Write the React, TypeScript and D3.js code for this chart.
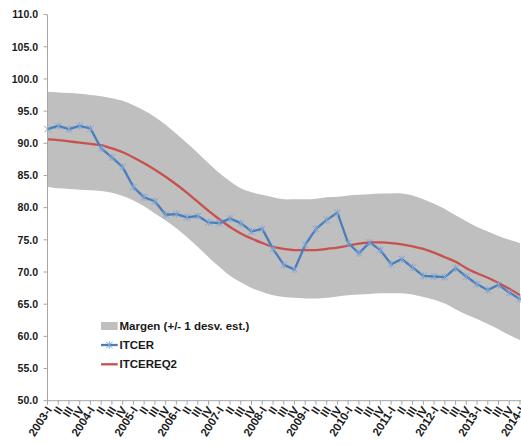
import React from "react";
import * as d3 from "d3";

const quarters = [
  "2003-I","II","III","IV",
  "2004-I","II","III","IV",
  "2005-I","II","III","IV",
  "2006-I","II","III","IV",
  "2007-I","II","III","IV",
  "2008-I","II","III","IV",
  "2009-I","II","III","IV",
  "2010-I","II","III","IV",
  "2011-I","II","III","IV",
  "2012-I","II","III","IV",
  "2013-I","II","III","IV",
  "2014-I",
];

const itcer = [
  92.2, 92.7, 92.2, 92.7, 92.3, 89.2, 87.8, 86.3, 83.2, 81.6,
  81.0, 78.9, 79.0, 78.5, 78.7, 77.7, 77.6, 78.3, 77.6, 76.3,
  76.7, 73.6, 71.1, 70.4, 74.2, 76.7, 78.1, 79.2, 74.5, 72.9,
  74.6, 73.4, 71.2, 72.0, 70.7, 69.4, 69.3, 69.2, 70.6, 69.3,
  68.1, 67.2, 68.0, 66.8, 65.8,
];

const itcereq2 = [
  90.6, 90.5, 90.3, 90.1, 89.9, 89.7, 89.2, 88.6, 87.8, 86.9,
  85.9, 84.8, 83.6, 82.3, 80.9, 79.5, 78.2, 77.0, 76.0, 75.2,
  74.5, 73.9, 73.6, 73.4, 73.4, 73.4, 73.6, 73.8, 74.1, 74.4,
  74.6, 74.6, 74.5, 74.3, 74.0, 73.6, 73.0, 72.3, 71.6, 70.6,
  69.8, 69.1, 68.3, 67.4, 66.4,
];

const bandUpper = [
  98.0, 97.9, 97.8, 97.7, 97.5, 97.3, 97.0, 96.6, 95.9, 95.1,
  94.1, 92.9, 91.5, 90.0, 88.5, 86.9, 85.4, 84.1, 83.0, 82.4,
  82.0, 81.6, 81.3, 81.3, 81.3, 81.4, 81.6, 81.7, 81.9, 82.0,
  82.1, 82.2, 82.2, 82.2, 81.9, 81.3, 80.6, 79.8, 78.8, 77.9,
  77.0, 76.3, 75.6, 75.0, 74.5,
];

const bandLower = [
  83.2, 83.0, 82.9, 82.8, 82.7, 82.6, 82.3, 81.8, 81.1, 80.2,
  79.1, 78.0, 76.8, 75.4, 73.9, 72.3, 70.8, 69.4, 68.4, 67.5,
  66.9, 66.4, 66.1, 66.0, 65.9, 65.9, 66.0, 66.2, 66.4, 66.5,
  66.6, 66.7, 66.7, 66.7, 66.5, 66.1, 65.7, 65.1, 64.2, 63.4,
  62.7, 61.9, 61.1, 60.2, 59.4,
];

const yTicks = [50, 55, 60, 65, 70, 75, 80, 85, 90, 95, 100, 105, 110];

const legendItems = ["Margen (+/- 1 desv. est.)", "ITCER", "ITCEREQ2"];

const W = 521;
const H = 445;
const X0 = 47.5;
const X1 = 520;
const Y0 = 400.7;
const Y1 = 14.6;

const BLUE = "#4A7EBB";
const MARK = "#7FA6D6";
const RED = "#C8504D";
const GREY = "#BFBFBF";
const AXIS = "#A6A6A6";

export default function App() {
  const x = d3.scalePoint<number>().domain(d3.range(quarters.length)).range([X0, X1]);
  const y = d3.scaleLinear().domain([50, 110]).range([Y0, Y1]);

  const idx = d3.range(quarters.length);

  const area = d3
    .area<number>()
    .x((i) => x(i)!)
    .y0((i) => y(bandLower[i]))
    .y1((i) => y(bandUpper[i]))
    .curve(d3.curveCatmullRom.alpha(0.5));

  const redLine = d3
    .line<number>()
    .x((i) => x(i)!)
    .y((i) => y(itcereq2[i]))
    .curve(d3.curveCatmullRom.alpha(0.5));

  const blueLine = d3
    .line<number>()
    .x((i) => x(i)!)
    .y((i) => y(itcer[i]));

  const star = (cx: number, cy: number, r: number) =>
    `M${cx - r},${cy - r}L${cx + r},${cy + r}M${cx - r},${cy + r}L${cx + r},${cy - r}M${cx},${cy - r - 0.5}L${cx},${cy + r + 0.5}`;

  const font = "'Liberation Sans', Arial, sans-serif";
  const narrow = "'Liberation Sans Narrow', 'Arial Narrow', 'Liberation Sans', sans-serif";

  const legX = 101;
  const legY = [326, 345, 364.3];

  return (
    <svg
      width={W}
      height={H}
      style={{ position: "absolute", left: 0, top: 0, background: "#fff" }}
      xmlns="http://www.w3.org/2000/svg"
    >
      <rect width={W} height={H} fill="#fff" />
      <path d={area(idx)!} fill={GREY} stroke="none" />
      <path d={redLine(idx)!} fill="none" stroke={RED} strokeWidth={2.3} />
      <path d={blueLine(idx)!} fill="none" stroke={BLUE} strokeWidth={2.3} strokeLinejoin="round" />
      {idx.map((i) => (
        <path key={i} d={star(x(i)!, y(itcer[i]), 3.2)} stroke={MARK} strokeWidth={1} fill="none" />
      ))}

      {/* axes */}
      <line x1={X0} x2={X0} y1={Y1} y2={Y0} stroke={AXIS} strokeWidth={1} />
      <line x1={X0} x2={W} y1={Y0} y2={Y0} stroke={AXIS} strokeWidth={1} />
      {yTicks.map((t) => (
        <g key={t}>
          <line x1={X0 - 4} x2={X0} y1={y(t)} y2={y(t)} stroke={AXIS} />
          <text
            x={38}
            y={y(t)}
            dy="0.36em"
            textAnchor="end"
            fontFamily={font}
            fontWeight="bold"
            fontSize={10.5}
            fill="#1a1a1a"
          >
            {t.toFixed(1)}
          </text>
        </g>
      ))}
      {idx.map((i) => (
        <g key={i}>
          <line x1={x(i)!} x2={x(i)!} y1={Y0} y2={Y0 + 4} stroke={AXIS} />
          <text
            transform={`translate(${x(i)! + 1.5},${Y0 + 7}) rotate(-57)`}
            textAnchor="end"
            dy="0.35em"
            fontFamily={font}
            fontWeight="bold"
            fontSize={11.5}
            fill="#1a1a1a"
          >
            {quarters[i]}
          </text>
        </g>
      ))}

      {/* legend */}
      <rect x={legX} y={legY[0] - 4} width={16.7} height={8} fill={GREY} />
      <line x1={legX} x2={legX + 16.7} y1={legY[1]} y2={legY[1]} stroke={BLUE} strokeWidth={2.3} />
      <path d={star(legX + 8.3, legY[1], 3.2)} stroke={MARK} strokeWidth={1} fill="none" />
      <line x1={legX} x2={legX + 16.7} y1={legY[2]} y2={legY[2]} stroke={RED} strokeWidth={2.3} />
      {legendItems.map((s, k) => (
        <text
          key={s}
          x={legX + 18.5}
          y={legY[k]}
          dy="0.36em"
          fontFamily={narrow}
          fontWeight="bold"
          fontSize={11.5}
          fill="#1a1a1a"
        >
          {s}
        </text>
      ))}
    </svg>
  );
}
